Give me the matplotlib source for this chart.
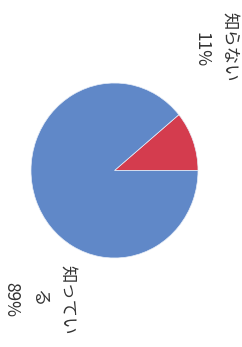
import matplotlib
matplotlib.use("Agg")
import matplotlib.pyplot as plt

plt.rcParams['font.family'] = ['Noto Sans CJK JP', 'DejaVu Sans']

# データ
labels = ['知らない', '知ってい\nる']
values = [11, 89]
colors = ['#d43c4e', '#6088c8']

W, H = 242, 347
fig = plt.figure(figsize=(W / 100, H / 100), dpi=100)

# 円グラフ（スキャンで少し縦長）
ax = fig.add_axes([31 / W, (H - 258) / H, 167 / W, 175 / H])
ax.pie(values, colors=colors, startangle=0, counterclock=True,
       wedgeprops=dict(edgecolor='#e8eef8', linewidth=0.5))
ax.set_aspect('auto')
ax.set_xlim(-1, 1)
ax.set_ylim(-1, 1)

# ラベル（90度回転、縦書き風）
tx = fig.add_axes([0, 0, 1, 1])
tx.set_xlim(0, W)
tx.set_ylim(0, H)
tx.axis('off')

pct = ['%d%%' % v for v in values]
kw = dict(rotation=270, ha='center', va='center', color='#333333', fontsize=12.5)

# 知らない 11%
tx.text(230, H - 47, labels[0], **kw)
tx.text(201, H - 50, pct[0], **kw)

# 知っている 89%
first, second = labels[1].split('\n')
tx.text(68, H - 300, first, **kw)
tx.text(39, H - 298, second, **kw)
tx.text(11, H - 299, pct[1], **kw)

fig.savefig('out.png', dpi=100, facecolor='white')
